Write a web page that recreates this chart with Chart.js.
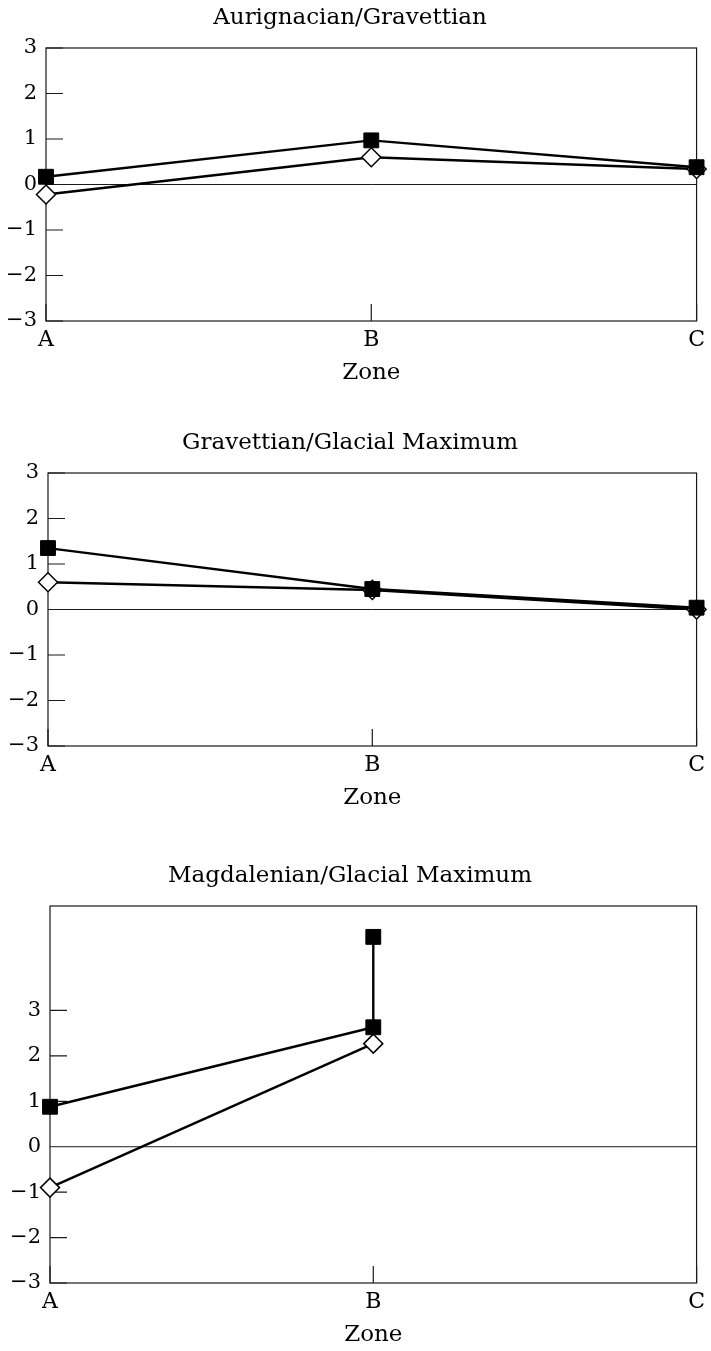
<!DOCTYPE html>
<html>
<head>
<meta charset="utf-8">
<script src="https://cdn.jsdelivr.net/npm/chart.js@4.4.0/dist/chart.umd.min.js"></script>
<style>
html, body { margin: 0; padding: 0; background: #fff; overflow: hidden; }
#wrap { position: relative; width: 711px; height: 1351px; }
canvas { position: absolute; left: 0; }
</style>
</head>
<body>
<div id="wrap">
  <canvas id="c1" width="711" height="391" style="top:0px"></canvas>
  <canvas id="c2" width="711" height="391" style="top:425px"></canvas>
  <canvas id="c3" width="711" height="495" style="top:858px"></canvas>
</div>
<script>
// data
var zones = ['A', 'B', 'C'];
var yTicks = [-3, -2, -1, 0, 1, 2, 3];

var aurTitle = 'Aurignacian/Gravettian';
var aurSquare = [0.17, 0.97, 0.38];
var aurDiamond = [-0.22, 0.6, 0.34];

var gravTitle = 'Gravettian/Glacial Maximum';
var gravSquare = [1.35, 0.45, 0.04];
var gravDiamond = [0.6, 0.43, 0.0];

var magTitle = 'Magdalenian/Glacial Maximum';
var magSquareZone = ['A', 'B', 'B'];
var magSquare = [0.88, 2.63, 4.62];
var magDiamondZone = ['A', 'B'];
var magDiamond = [-0.9, 2.27];

var serif = 'DejaVu Serif';

function pts(zs, vals) {
  var out = [];
  for (var i = 0; i < vals.length; i++) {
    out.push({ x: zones.indexOf(zs[i]), y: vals[i] });
  }
  return out;
}

// box round the plot, zero line and the short ticks pointing inwards
var framePlugin = {
  id: 'frame',
  beforeDatasetsDraw: function (chart) {
    var a = chart.chartArea;
    var ctx = chart.ctx;
    var xs = chart.scales.x;
    var ys = chart.scales.y;
    ctx.save();
    ctx.strokeStyle = '#1a1a1a';
    ctx.lineWidth = 1.2;
    ctx.strokeRect(a.left, a.top, a.right - a.left, a.bottom - a.top);

    ctx.lineWidth = 1;
    var y0 = ys.getPixelForValue(0);
    ctx.beginPath();
    ctx.moveTo(a.left, y0);
    ctx.lineTo(a.right, y0);
    ctx.stroke();

    ctx.lineWidth = 1.2;
    ctx.beginPath();
    for (var i = 0; i < yTicks.length; i++) {
      if (yTicks[i] === 0) continue;
      var py = ys.getPixelForValue(yTicks[i]);
      ctx.moveTo(a.left, py);
      ctx.lineTo(a.left + 17, py);
    }
    for (var j = 0; j < zones.length; j++) {
      var px = xs.getPixelForValue(j);
      ctx.moveTo(px, a.bottom);
      ctx.lineTo(px, a.bottom - 17);
    }
    ctx.stroke();
    ctx.restore();
  }
};

function makeChart(id, title, squares, diamonds, yMax, left) {
  var ctx = document.getElementById(id).getContext('2d');
  return new Chart(ctx, {
    type: 'line',
    data: {
      datasets: [{
        label: 'squares',
        data: squares,
        borderColor: '#000',
        borderWidth: 2.4,
        pointStyle: 'rect',
        pointRadius: 10.5,
        pointBackgroundColor: '#000',
        pointBorderColor: '#000',
        pointBorderWidth: 1,
        tension: 0,
        clip: false
      }, {
        label: 'diamonds',
        data: diamonds,
        borderColor: '#000',
        borderWidth: 2.4,
        pointStyle: 'rectRot',
        pointRadius: 9.5,
        pointBackgroundColor: '#fff',
        pointBorderColor: '#000',
        pointBorderWidth: 1.5,
        tension: 0,
        clip: false
      }]
    },
    options: {
      responsive: false,
      animation: false,
      devicePixelRatio: 1,
      layout: { padding: { left: 0, right: 11, top: 0, bottom: 0 } },
      plugins: {
        legend: { display: false },
        tooltip: { enabled: false },
        title: {
          display: true,
          text: title,
          color: '#000',
          font: { family: serif, size: 23, weight: 'normal' },
          padding: { top: 4, bottom: 16.4 }
        }
      },
      scales: {
        x: {
          type: 'linear',
          min: 0,
          max: 2,
          afterBuildTicks: function (s) {
            s.ticks = zones.map(function (z, i) { return { value: i }; });
          },
          ticks: {
            callback: function (v) { return zones[v]; },
            color: '#000',
            font: { family: serif, size: 22 },
            padding: 6,
            maxRotation: 0,
            autoSkip: false
          },
          grid: { display: false, drawTicks: false },
          border: { display: false },
          title: {
            display: true,
            text: 'Zone',
            color: '#000',
            font: { family: serif, size: 23 },
            padding: { top: 4, bottom: 4 }
          },
          afterFit: function (s) { s.height = 70; }
        },
        y: {
          min: -3,
          max: yMax,
          afterBuildTicks: function (s) {
            s.ticks = yTicks.map(function (v) { return { value: v }; });
          },
          ticks: {
            callback: function (v) { return v < 0 ? '\u2212' + Math.abs(v) : String(v); },
            color: '#000',
            font: { family: serif, size: 21 },
            padding: 9
          },
          grid: { display: false, drawTicks: false },
          border: { display: false },
          afterFit: function (s) { s.width = left; }
        }
      }
    },
    plugins: [framePlugin]
  });
}

makeChart('c1', aurTitle, pts(zones, aurSquare), pts(zones, aurDiamond), 3, 46);
makeChart('c2', gravTitle, pts(zones, gravSquare), pts(zones, gravDiamond), 3, 48);
makeChart('c3', magTitle, pts(magSquareZone, magSquare), pts(magDiamondZone, magDiamond), 5.3, 50);
</script>
</body>
</html>
